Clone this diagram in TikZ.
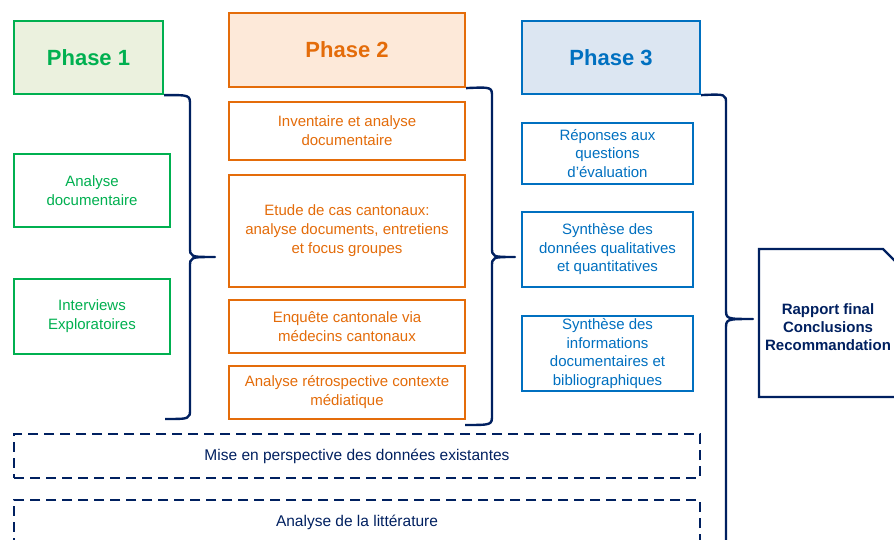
\documentclass[tikz,border=0pt]{standalone}
\usepackage{fontspec}
\setmainfont{Liberation Sans}
\definecolor{grn}{HTML}{00B050}
\definecolor{grnfill}{HTML}{EBF1DE}
\definecolor{org}{HTML}{E46C0A}
\definecolor{orgfill}{HTML}{FDE9D9}
\definecolor{blu}{HTML}{0070C0}
\definecolor{blufill}{HTML}{DCE6F2}
\definecolor{navy}{HTML}{002060}
\begin{document}
\begin{tikzpicture}[x=1pt,y=-1pt,
  box/.style={draw, line width=2.2pt, align=center, inner sep=0pt,
    font=\fontsize{15}{19}\selectfont},
  phase/.style={box, font=\fontsize{22}{26}\selectfont\bfseries},
  gbox/.style={box, draw=grn, text=grn},
  obox/.style={box, draw=org, text=org},
  bbox/.style={box, draw=blu, text=blu, font=\fontsize{15}{18.5}\selectfont},
  dbox/.style={draw=navy, line width=2.4pt, dash pattern=on 10pt off 6pt, text=navy,
    font=\fontsize{15.5}{19}\selectfont, inner sep=0pt},
  brace/.style={draw=navy, line width=2.4pt, line join=round}
]
\clip (0,0) rectangle (894,540);
\fill[white] (0,0) rectangle (894,540);

% Phase 1
\node[phase, draw=grn, fill=grnfill, text=grn, minimum width=149pt, minimum height=73pt] (p1) at (88.5,57.5) {Phase 1};
\node[gbox, minimum width=156pt, minimum height=73pt] (a1) at (92,190.5) {Analyse\\documentaire};
\node[gbox, minimum width=156pt, minimum height=75pt] (a2) at (92,316.5) {Interviews\\Exploratoires};

% Phase 2
\node[phase, draw=org, fill=orgfill, text=org, minimum width=236pt, minimum height=74pt] (p2) at (347,50) {Phase 2};
\node[obox, minimum width=236pt, minimum height=58pt] (b1) at (347,131) {Inventaire et analyse\\documentaire};
\node[obox, minimum width=236pt, minimum height=112pt] (b2) at (347,231) {Etude de cas cantonaux:\\analyse documents, entretiens\\et focus groupes};
\node[obox, minimum width=236pt, minimum height=53pt] (b3) at (347,326.5) {Enquête cantonale via\\médecins cantonaux};
\node[obox, minimum width=236pt, minimum height=53pt] (b4) at (347,392.5) {Analyse rétrospective contexte\\médiatique};

% Phase 3
\node[phase, draw=blu, fill=blufill, text=blu, minimum width=178pt, minimum height=73pt] (p3) at (611,57.5) {Phase 3};
\node[bbox, minimum width=171pt, minimum height=61pt] (c1) at (607.5,153.5) {Réponses aux\\questions\\d’évaluation};
\node[bbox, minimum width=171pt, minimum height=75pt] (c2) at (607.5,249.5) {Synthèse des\\données qualitatives\\et quantitatives};
\node[bbox, minimum width=171pt, minimum height=75pt] (c3) at (607.5,353.5) {Synthèse des\\informations\\documentaires et\\bibliographiques};

% dashed boxes
\node[dbox, minimum width=686pt, minimum height=44pt] (d1) at (357,456) {Mise en perspective des données existantes};
\node[dbox, minimum width=686pt, minimum height=46pt, text height=11pt] (d2) at (357,523) {Analyse de la littérature};

% Rapport final
\draw[draw=navy, line width=2.4pt, line join=miter] (759,249) -- (883,249) -- (920,286) -- (920,397) -- (759,397) -- cycle;
\node[align=center, text=navy, font=\fontsize{15}{18}\selectfont\bfseries, inner sep=0pt] (rap) at (828,327) {Rapport final\\Conclusions\\Recommandation};

% braces
\coordinate (tipL) at (215,257);
\coordinate (endL) at (165,419);
\coordinate (tipM) at (515,257);
\coordinate (endM) at (465,425);
\coordinate (tipR) at (753,319);
\coordinate (endR) at (726,560);
\path[brace] (p1.south east) .. controls (190,95) .. (190,105) -- (190,247) .. controls (190,257) .. (tipL)
  .. controls (190,257) .. (190,267) -- (190,409) .. controls (190,419) .. (endL);
\path[brace] (p2.south east) .. controls (492,87) .. (492,97) -- (492,247) .. controls (492,257) .. (tipM)
  .. controls (492,257) .. (492,267) -- (492,415) .. controls (492,425) .. (endM);
\path[brace] (p3.south east) .. controls (726,94) .. (726,104) -- (726,309) .. controls (726,319) .. (tipR)
  .. controls (726,319) .. (726,329) -- (endR);
\end{tikzpicture}
\end{document}
